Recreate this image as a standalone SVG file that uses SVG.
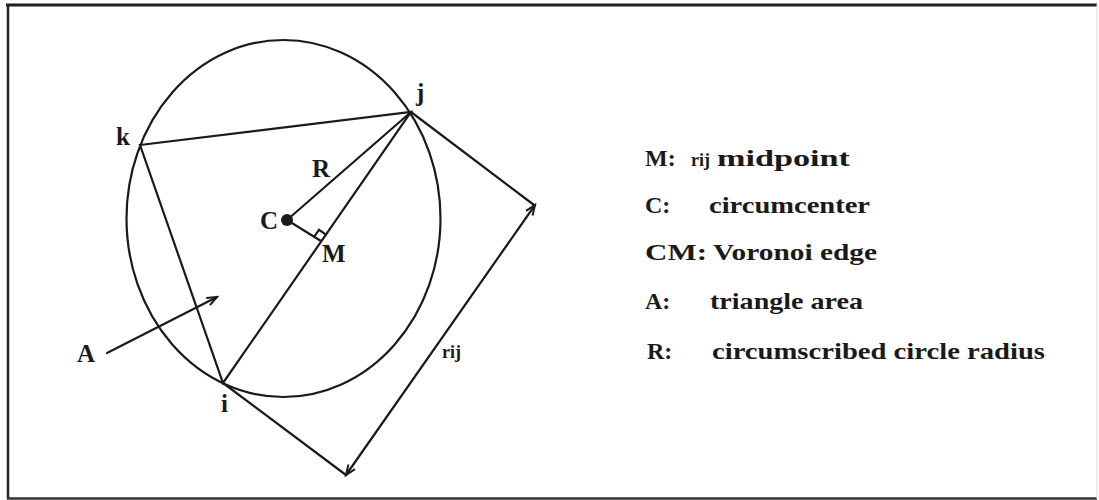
<svg xmlns="http://www.w3.org/2000/svg" width="1099" height="500" viewBox="0 0 1099 500">
  <style>
    .ln { fill: none; stroke: #1a1a1a; stroke-width: 2.2; stroke-linecap: round; }
    .lbl { font-family: "Liberation Serif", "Times New Roman", serif; font-weight: bold; font-size: 25px; fill: #1a1a1a; }
    .leg { font-family: "Liberation Serif", "Times New Roman", serif; font-weight: bold; font-size: 24px; fill: #1a1a1a; }
    .sub { font-family: "Liberation Serif", "Times New Roman", serif; font-weight: bold; font-size: 18px; fill: #1a1a1a; }
  </style>
  <defs>
    <marker id="arr" markerUnits="userSpaceOnUse" markerWidth="14" markerHeight="12" refX="11" refY="5" orient="auto-start-reverse" viewBox="0 0 14 10">
      <path d="M1,1 L11,5 L1,9" fill="none" stroke="#1a1a1a" stroke-width="2" stroke-linejoin="miter"/>
    </marker>
  </defs>
  <rect x="0" y="0" width="1099" height="500" fill="#ffffff"/>
  <g id="frame">
    <line x1="6" y1="5" x2="1097" y2="5" stroke="#222" stroke-width="3"/>
    <line x1="8" y1="4" x2="8" y2="499" stroke="#222" stroke-width="2.5"/>
    <line x1="7" y1="498.5" x2="1097" y2="498.5" stroke="#333" stroke-width="2.5"/>
    <line x1="1097" y1="4" x2="1097" y2="499" stroke="#ddd" stroke-width="1"/>
  </g>
  <g id="circle">
    <ellipse class="ln" cx="283.5" cy="218.5" rx="157" ry="178.5"/>
  </g>
  <g id="connectors">
    <polygon class="ln" points="140,145 411,112 223,383"/>
    <line class="ln" x1="287" y1="220" x2="411" y2="112"/>
    <line class="ln" x1="287" y1="220" x2="321" y2="241"/>
    <polyline class="ln" points="314.4,236.4 319,229.8 325.6,234.4" stroke-width="1.6"/>
    <line class="ln" x1="411" y1="112" x2="534" y2="205"/>
    <line class="ln" x1="223" y1="383" x2="346" y2="475"/>
    <line class="ln" x1="346" y1="475" x2="535" y2="205" marker-start="url(#arr)" marker-end="url(#arr)"/>
    <line class="ln" x1="107" y1="353" x2="217" y2="297" marker-end="url(#arr)"/>
  </g>
  <g id="node-C">
    <circle cx="287" cy="220" r="6" fill="#1a1a1a"/>
    <text class="lbl" x="260" y="229">C</text>
  </g>
  <g id="node-k"><text class="lbl" x="116" y="145">k</text></g>
  <g id="node-j"><text class="lbl" x="416" y="101">j</text></g>
  <g id="node-i"><text class="lbl" x="221" y="412">i</text></g>
  <g id="node-R"><text class="lbl" x="312" y="177">R</text></g>
  <g id="node-M"><text class="lbl" x="322" y="262">M</text></g>
  <g id="node-A"><text class="lbl" x="77" y="362">A</text></g>
  <g id="node-rij"><text class="sub" x="442" y="358">rij</text></g>
  <g id="legend">
    <text class="leg" x="645" y="166">M:</text>
    <text class="sub" x="691" y="166">rij</text>
    <text class="leg" x="717" y="166" textLength="133" lengthAdjust="spacingAndGlyphs">midpoint</text>
    <text class="leg" x="645" y="213">C:</text>
    <text class="leg" x="709" y="213" textLength="161" lengthAdjust="spacingAndGlyphs">circumcenter</text>
    <text class="leg" x="645" y="260" textLength="62" lengthAdjust="spacingAndGlyphs">CM:</text>
    <text class="leg" x="713" y="260" textLength="164" lengthAdjust="spacingAndGlyphs">Voronoi edge</text>
    <text class="leg" x="645" y="309">A:</text>
    <text class="leg" x="710" y="309" textLength="153" lengthAdjust="spacingAndGlyphs">triangle area</text>
    <text class="leg" x="647" y="359">R:</text>
    <text class="leg" x="712" y="359" textLength="333" lengthAdjust="spacingAndGlyphs">circumscribed circle radius</text>
  </g>
</svg>
